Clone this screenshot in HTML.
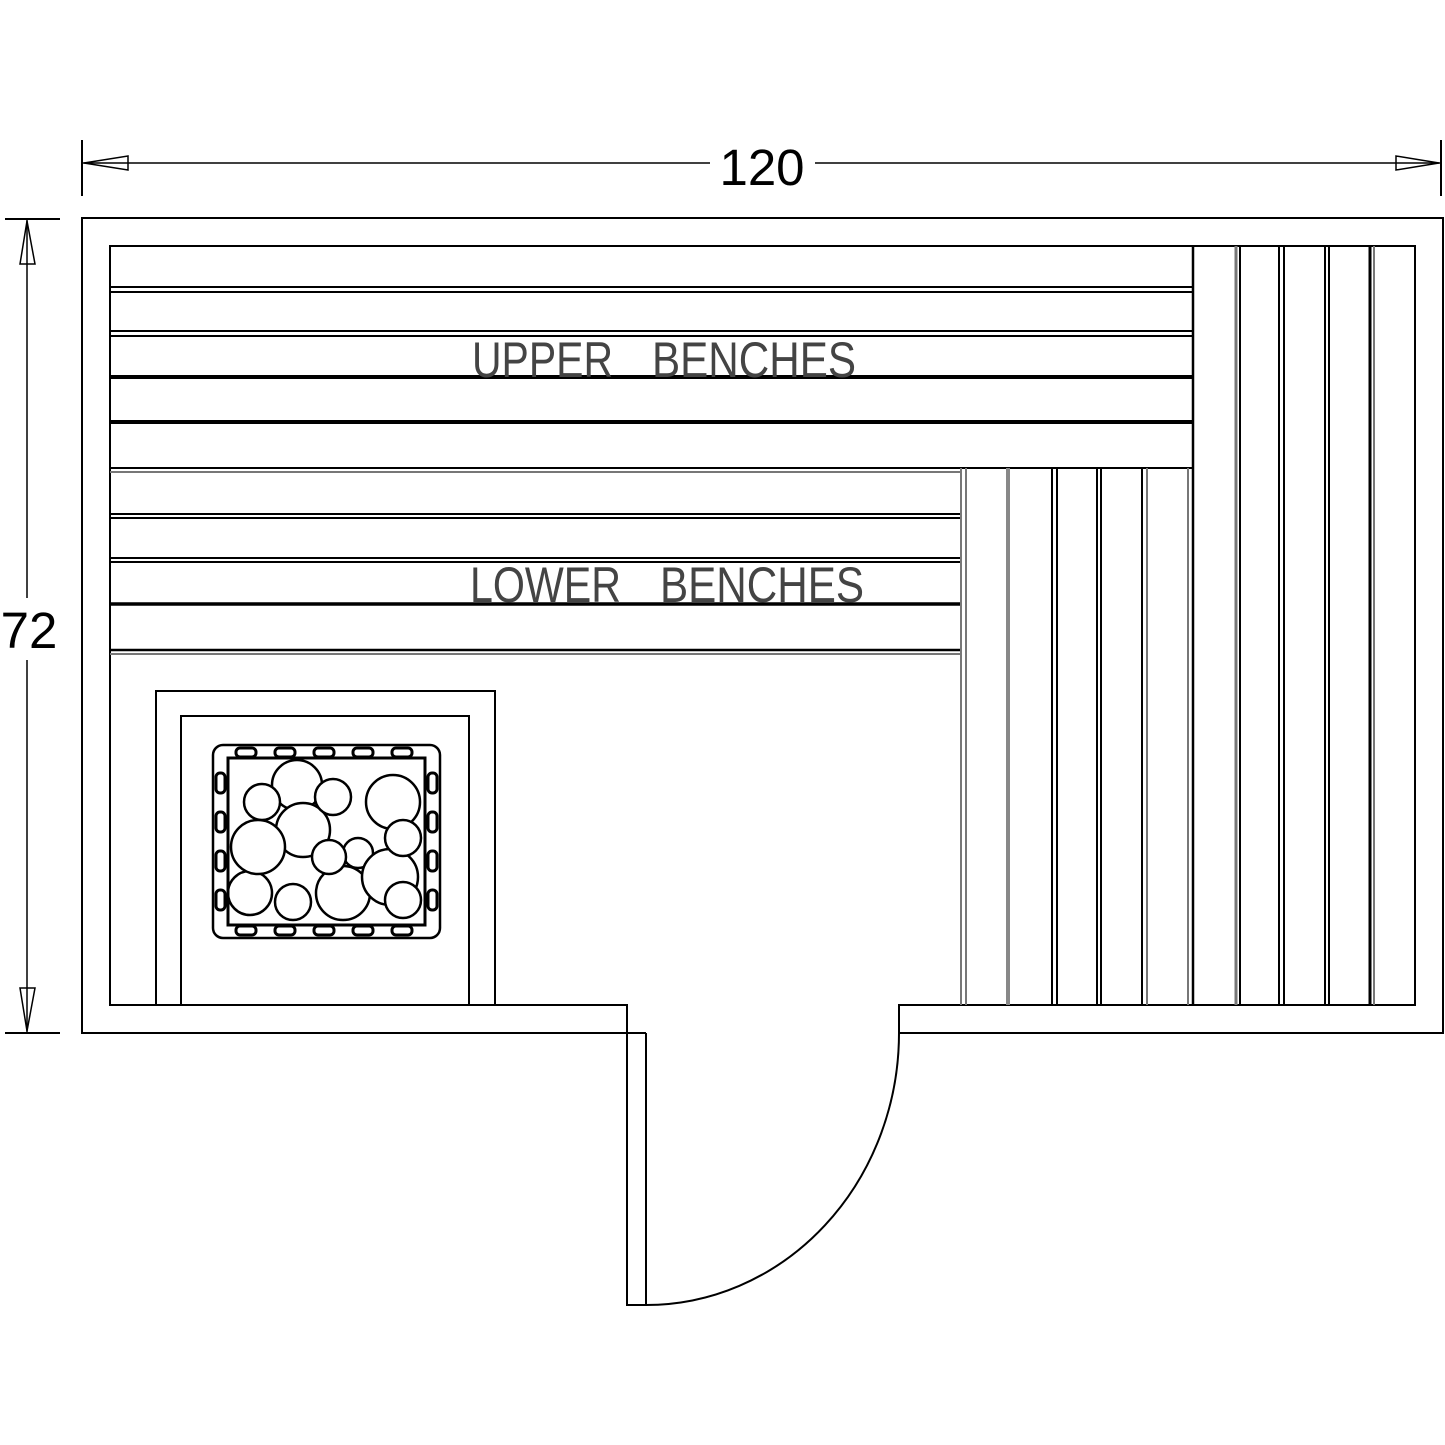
<!DOCTYPE html>
<html><head><meta charset="utf-8"><style>html,body{margin:0;padding:0;background:#fff}svg{display:block}</style></head>
<body>
<svg width="1445" height="1445" viewBox="0 0 1445 1445" xmlns="http://www.w3.org/2000/svg" fill="none" stroke="#000" stroke-width="2">
<rect width="1445" height="1445" fill="#fff" stroke="none"/>
<line x1="82" y1="140" x2="82" y2="196"/>
<line x1="1441" y1="140" x2="1441" y2="196"/>
<line x1="82" y1="163" x2="710" y2="163" stroke-width="1.5"/>
<line x1="815" y1="163" x2="1441" y2="163" stroke-width="1.5"/>
<polygon points="84,163 128,156 128,170" stroke-width="1.5"/>
<polygon points="1439,163 1396,156 1396,170" stroke-width="1.5"/>
<line x1="5" y1="219" x2="60" y2="219"/>
<line x1="5" y1="1033" x2="60" y2="1033"/>
<line x1="27" y1="219" x2="27" y2="598" stroke-width="1.5"/>
<line x1="27" y1="660" x2="27" y2="1033" stroke-width="1.5"/>
<polygon points="27,221 20,264 35,264" stroke-width="1.5"/>
<polygon points="27,1031 20,988 35,988" stroke-width="1.5"/>
<text x="762" y="185" font-family="Liberation Sans, sans-serif" font-size="51" fill="#000" stroke="none" text-anchor="middle">120</text>
<text x="29" y="648" font-family="Liberation Sans, sans-serif" font-size="51" fill="#000" stroke="none" text-anchor="middle">72</text>
<polyline points="646,1033 82,1033 82,218 1443,218 1443,1033 899,1033 899,1005 1415,1005 1415,246 110,246 110,1005 627,1005 627,1305 646,1305 646,1033"/>
<path d="M646,1305 A253,272 0 0 0 899,1033" />
<g stroke-width="2">
<line x1="110" y1="287" x2="1193" y2="287"/><line x1="110" y1="292" x2="1193" y2="292"/>
<line x1="110" y1="331" x2="1193" y2="331"/><line x1="110" y1="336" x2="1193" y2="336"/>
<line x1="110" y1="377" x2="1193" y2="377" stroke-width="4"/>
<line x1="110" y1="422" x2="1193" y2="422" stroke-width="4"/>
<line x1="110" y1="468" x2="1193" y2="468"/>
<line x1="1193" y1="246" x2="1193" y2="1005" stroke-width="2.5"/>
<line x1="1236" y1="246" x2="1236" y2="1005" stroke="#777" stroke-width="3"/><line x1="1240" y1="246" x2="1240" y2="1005"/>
<line x1="1279" y1="246" x2="1279" y2="1005"/><line x1="1284" y1="246" x2="1284" y2="1005"/>
<line x1="1325" y1="246" x2="1325" y2="1005"/><line x1="1329" y1="246" x2="1329" y2="1005"/>
<line x1="1370" y1="246" x2="1370" y2="1005" stroke-width="3"/><line x1="1374" y1="246" x2="1374" y2="1005" stroke="#777"/>
<line x1="110" y1="472" x2="960" y2="472" stroke="#777"/>
<line x1="110" y1="514" x2="960" y2="514"/><line x1="110" y1="518" x2="960" y2="518"/>
<line x1="110" y1="558" x2="960" y2="558"/><line x1="110" y1="562" x2="960" y2="562"/>
<line x1="110" y1="604" x2="960" y2="604" stroke-width="3.5"/>
<line x1="110" y1="650" x2="960" y2="650" stroke-width="2.5"/><line x1="110" y1="654" x2="960" y2="654" stroke="#777"/>
<line x1="961" y1="468" x2="961" y2="1005" stroke="#777"/><line x1="966" y1="468" x2="966" y2="1005" stroke="#777"/>
<line x1="1008" y1="468" x2="1008" y2="1005" stroke="#888" stroke-width="4"/>
<line x1="1052" y1="468" x2="1052" y2="1005"/><line x1="1057" y1="468" x2="1057" y2="1005"/>
<line x1="1097" y1="468" x2="1097" y2="1005"/><line x1="1101" y1="468" x2="1101" y2="1005"/>
<line x1="1142" y1="468" x2="1142" y2="1005"/><line x1="1147" y1="468" x2="1147" y2="1005" stroke="#777"/>
<line x1="1188" y1="468" x2="1188" y2="1005" stroke="#777"/>
</g>
<g font-family="Liberation Sans, sans-serif" font-size="50" fill="#444" stroke="none" lengthAdjust="spacingAndGlyphs">
<text x="472" y="377" textLength="141" lengthAdjust="spacingAndGlyphs">UPPER</text>
<text x="652" y="377" textLength="204" lengthAdjust="spacingAndGlyphs">BENCHES</text>
<text x="470" y="602" textLength="151" lengthAdjust="spacingAndGlyphs">LOWER</text>
<text x="660" y="602" textLength="204" lengthAdjust="spacingAndGlyphs">BENCHES</text>
</g>
<polyline points="156,1005 156,691 495,691 495,1005"/>
<polyline points="181,1005 181,716 469,716 469,1005"/>
<rect x="213" y="745" width="227" height="193" rx="10" stroke-width="2.5"/>
<g stroke-width="3">
<rect x="236" y="748" width="20" height="9" rx="4"/><rect x="275" y="748" width="20" height="9" rx="4"/><rect x="314" y="748" width="20" height="9" rx="4"/><rect x="353" y="748" width="20" height="9" rx="4"/><rect x="392" y="748" width="20" height="9" rx="4"/>
<rect x="236" y="926" width="20" height="9" rx="4"/><rect x="275" y="926" width="20" height="9" rx="4"/><rect x="314" y="926" width="20" height="9" rx="4"/><rect x="353" y="926" width="20" height="9" rx="4"/><rect x="392" y="926" width="20" height="9" rx="4"/>
<rect x="216" y="773" width="9" height="20" rx="4"/><rect x="216" y="812" width="9" height="20" rx="4"/><rect x="216" y="851" width="9" height="20" rx="4"/><rect x="216" y="890" width="9" height="20" rx="4"/>
<rect x="428" y="773" width="9" height="20" rx="4"/><rect x="428" y="812" width="9" height="20" rx="4"/><rect x="428" y="851" width="9" height="20" rx="4"/><rect x="428" y="890" width="9" height="20" rx="4"/>
</g>
<g stroke-width="2.5" fill="#fff">
<circle cx="297" cy="785" r="25"/>
<circle cx="303" cy="830" r="27"/>
<circle cx="250" cy="893" r="22"/>
<circle cx="343" cy="893" r="27"/>
<circle cx="358" cy="853" r="15"/>
<circle cx="390" cy="877" r="28"/>
<circle cx="262" cy="802" r="18"/>
<circle cx="333" cy="797" r="18"/>
<circle cx="393" cy="802" r="27"/>
<circle cx="258" cy="847" r="27"/>
<circle cx="329" cy="857" r="17"/>
<circle cx="403" cy="838" r="18"/>
<circle cx="293" cy="902" r="18"/>
<circle cx="403" cy="900" r="18"/>
</g>
<rect x="228" y="758" width="197" height="167" stroke-width="3"/>
</svg>
</body></html>
